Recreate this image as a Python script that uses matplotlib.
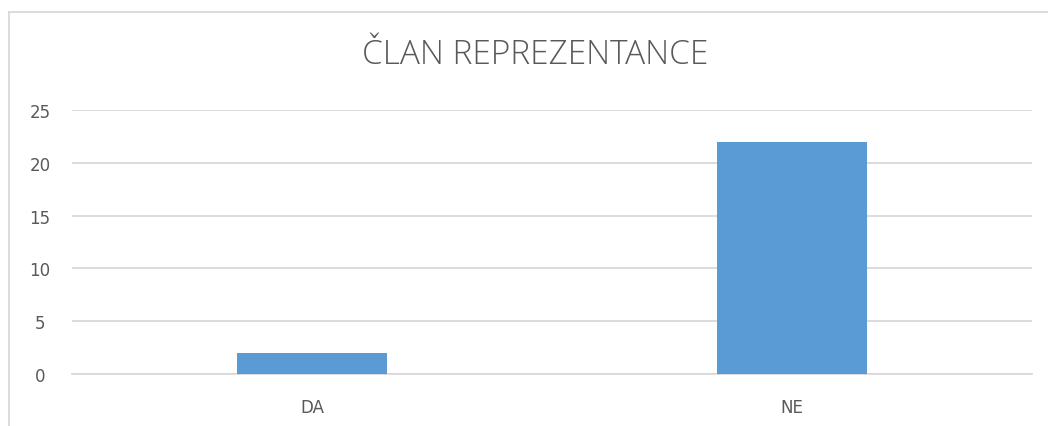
import matplotlib.pyplot as plt
from matplotlib.lines import Line2D

categories = ["DA", "NE"]
values = [2, 22]
yticks = [0, 5, 10, 15, 20, 25]

W, H = 1048, 427
fig = plt.figure(figsize=(W / 100, H / 100), dpi=100)
ax = fig.add_axes([72 / W, 1 - 375 / H, 960 / W, 264 / H])

ax.bar(range(len(categories)), values, width=0.3125, color="#5B9BD5", zorder=3)
ax.set_xlim(-0.5, 1.5)
ax.set_ylim(0, 25)
ax.set_yticks(yticks)
ax.set_xticks(range(len(categories)))
ax.set_xticklabels(categories)
ax.grid(axis="y", color="#D9D9D9", linewidth=1.3, zorder=0)
for s in ["top", "right", "left"]:
    ax.spines[s].set_visible(False)
ax.spines["bottom"].set_color("#D9D9D9")
ax.spines["bottom"].set_linewidth(1.3)
ax.tick_params(length=0, labelsize=12, colors="#595959")
ax.tick_params(axis="y", pad=23)
ax.tick_params(axis="x", pad=17)
for lab in ax.get_yticklabels():
    lab.set_horizontalalignment("center")

fig.text(535 / W, 1 - 55 / H, "ČLAN REPREZENTANCE", ha="center", va="center",
         fontsize=24, fontweight="light", color="#595959", family="Open Sans")

# chart area border (left and top)
fig.add_artist(Line2D([8.5 / W, 8.5 / W], [0, 1 - 12.5 / H], transform=fig.transFigure,
                      color="#D9D9D9", linewidth=1.3))
fig.add_artist(Line2D([8.5 / W, 1], [1 - 12.5 / H, 1 - 12.5 / H], transform=fig.transFigure,
                      color="#D9D9D9", linewidth=1.3))

fig.savefig("out.png", dpi=100)
